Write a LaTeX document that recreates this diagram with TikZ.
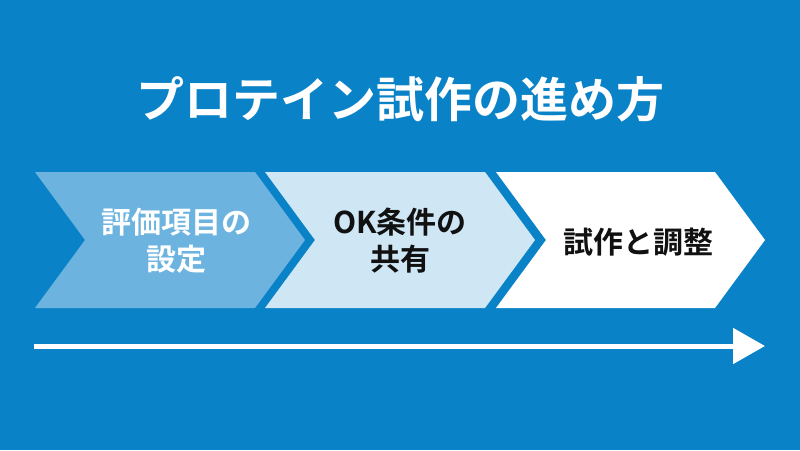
\documentclass[tikz,border=0pt]{standalone}
\usepackage{fontspec}
\setmainfont{Noto Sans CJK JP}[BoldFont={Noto Sans CJK JP Bold}]
\definecolor{bgblue}{HTML}{0A82C8}
\definecolor{chevA}{HTML}{6DB3DF}
\definecolor{chevB}{HTML}{CFE6F5}
\definecolor{txtdark}{HTML}{111111}
\tikzset{
  chevlabel/.style={align=center, font=\fontsize{30}{37}\selectfont\bfseries, inner sep=0pt},
  titlelabel/.style={font=\fontsize{48}{56}\selectfont\bfseries, text=white, inner sep=0pt},
  timeline/.style={draw=white, line width=5pt, -{Triangle[length=32pt,width=35pt]}}
}
\usetikzlibrary{arrows.meta}
\begin{document}
\begin{tikzpicture}[x=1pt,y=-1pt]
\fill[bgblue] (0,0) rectangle (800,450);
\useasboundingbox (0,0) rectangle (800,450);
\node[titlelabel] (title) at (400,99) {プロテイン試作の進め方};
% chevrons
\fill[chevA] (35,172) -- (255,172) -- (305,240) -- (255,308) -- (35,308) -- (85,240) -- cycle;
\fill[chevB] (265,172) -- (485,172) -- (535,240) -- (485,308) -- (265,308) -- (315,240) -- cycle;
\fill[white] (496,172) -- (715,172) -- (765,240) -- (715,308) -- (496,308) -- (546,240) -- cycle;
\node[chevlabel, text=white] (s1) at (176,241) {評価項目の\\設定};
\node[chevlabel, text=txtdark] (s2) at (400,241) {OK条件の\\共有};
\node[chevlabel, text=txtdark] (s3) at (638,242) {試作と調整};
\coordinate (ta) at (34,346);
\coordinate (tb) at (765,346);
\draw[timeline] (ta) -- (tb);
\end{tikzpicture}
\end{document}
